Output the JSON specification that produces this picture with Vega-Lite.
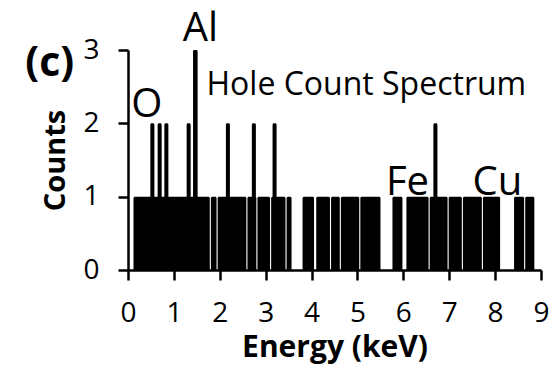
{
  "$schema": "https://vega.github.io/schema/vega-lite/v6.json",
  "width": 413,
  "height": 220,
  "autosize": {"type": "none"},
  "padding": {"left": 128, "top": 50, "right": 18, "bottom": 100},
  "background": "white",
  "config": {"view": {"stroke": null}, "font": "Open Sans"},
  "datasets": {
    "spectrum": [
      {"energy": 0.12, "energyEnd": 1.782, "counts": 1},
      {"energy": 1.806, "energyEnd": 1.93, "counts": 1},
      {"energy": 1.954, "energyEnd": 2.579, "counts": 1},
      {"energy": 2.603, "energyEnd": 2.797, "counts": 1},
      {"energy": 2.821, "energyEnd": 3.095, "counts": 1},
      {"energy": 3.119, "energyEnd": 3.432, "counts": 1},
      {"energy": 3.456, "energyEnd": 3.564, "counts": 1},
      {"energy": 3.804, "energyEnd": 4.054, "counts": 1},
      {"energy": 4.102, "energyEnd": 4.401, "counts": 1},
      {"energy": 4.425, "energyEnd": 4.615, "counts": 1},
      {"energy": 4.639, "energyEnd": 5.039, "counts": 1},
      {"energy": 5.063, "energyEnd": 5.502, "counts": 1},
      {"energy": 5.763, "energyEnd": 5.98, "counts": 1},
      {"energy": 6.067, "energyEnd": 6.55, "counts": 1},
      {"energy": 6.574, "energyEnd": 6.964, "counts": 1},
      {"energy": 6.988, "energyEnd": 7.275, "counts": 1},
      {"energy": 7.299, "energyEnd": 7.711, "counts": 1},
      {"energy": 7.735, "energyEnd": 8.109, "counts": 1},
      {"energy": 8.413, "energyEnd": 8.632, "counts": 1},
      {"energy": 8.656, "energyEnd": 8.855, "counts": 1},
      {"energy": 0.487, "energyEnd": 0.575, "counts": 2},
      {"energy": 0.646, "energyEnd": 0.734, "counts": 2},
      {"energy": 0.792, "energyEnd": 0.88, "counts": 2},
      {"energy": 1.278, "energyEnd": 1.366, "counts": 2},
      {"energy": 1.417, "energyEnd": 1.517, "counts": 3},
      {"energy": 2.133, "energyEnd": 2.221, "counts": 2},
      {"energy": 2.699, "energyEnd": 2.787, "counts": 2},
      {"energy": 3.15, "energyEnd": 3.238, "counts": 2},
      {"energy": 6.655, "energyEnd": 6.743, "counts": 2}
    ],
    "elements": [
      {"label": "O", "energy": 0.41, "counts": 2.09},
      {"label": "Al", "energy": 1.58, "counts": 3.12},
      {"label": "Fe", "energy": 6.09, "counts": 1.02},
      {"label": "Cu", "energy": 8.05, "counts": 1.02}
    ],
    "caption": [{"label": "Hole Count Spectrum", "energy": 1.71, "counts": 2.39}],
    "panel": [{"label": "(c)", "energy": -1.706, "counts": 2.646}]
  },
  "encoding": {
    "x": {
      "field": "energy", "type": "quantitative",
      "scale": {"domain": [0, 9], "nice": false, "zero": false},
      "axis": {
        "values": [0, 1, 2, 3, 4, 5, 6, 7, 8, 9],
        "title": "Energy (keV)", "titleFontSize": 30, "titleFontWeight": "bold", "titleColor": "black", "titlePadding": 5,
        "labelFontSize": 28, "labelColor": "black", "labelPadding": 19, "labelFlush": false,
        "domainColor": "black", "domainWidth": 2.5, "tickColor": "black", "tickWidth": 2.5, "tickSize": 10, "grid": false
      }
    },
    "y": {
      "field": "counts", "type": "quantitative",
      "scale": {"domain": [0, 3], "nice": false},
      "axis": {
        "values": [0, 1, 2, 3],
        "title": "Counts", "titleFontSize": 29, "titleFontWeight": "bold", "titleColor": "black", "titlePadding": 12,
        "labelFontSize": 28, "labelColor": "black", "labelPadding": 19, "labelFlush": false,
        "domainColor": "black", "domainWidth": 2.5, "tickColor": "black", "tickWidth": 2.5, "tickSize": 10, "grid": false
      }
    }
  },
  "layer": [
    {
      "data": {"name": "spectrum"},
      "mark": {"type": "rect", "color": "black", "cornerRadiusTopLeft": 1.5, "cornerRadiusTopRight": 1.5},
      "encoding": {
        "x2": {"field": "energyEnd"},
        "y2": {"datum": 0}
      }
    },
    {
      "data": {"name": "elements"},
      "mark": {"type": "text", "fontSize": 40, "baseline": "alphabetic", "align": "center", "color": "black"},
      "encoding": {"text": {"field": "label"}}
    },
    {
      "data": {"name": "caption"},
      "mark": {"type": "text", "fontSize": 32, "baseline": "alphabetic", "align": "left", "color": "black"},
      "encoding": {"text": {"field": "label"}}
    },
    {
      "data": {"name": "panel"},
      "mark": {"type": "text", "fontSize": 41, "fontWeight": "bold", "baseline": "alphabetic", "align": "center", "color": "black"},
      "encoding": {"text": {"field": "label"}}
    }
  ]
}
